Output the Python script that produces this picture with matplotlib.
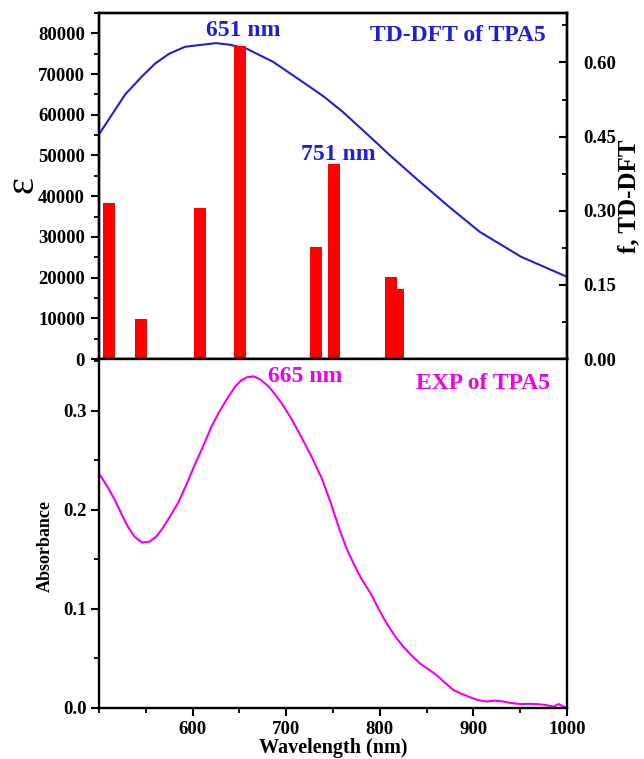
import matplotlib
matplotlib.use('Agg')
import matplotlib.pyplot as plt
from matplotlib.ticker import MultipleLocator

# TD-DFT broadened spectrum (epsilon)
eps_wl = [500, 528, 545, 560, 575, 592, 610, 625, 640, 658, 686, 718, 740, 760, 790, 811, 843, 875, 907, 951, 1000]
eps_val = [55200, 65000, 69200, 72600, 75000, 76700, 77200, 77600, 77200, 76200, 73000, 68000, 64500, 60800,
           54500, 50000, 43500, 37200, 31200, 25100, 20200]

# oscillator strengths
bar_wl = [510.5, 545, 608, 651, 732, 751, 812, 819]
bar_f = [0.316, 0.081, 0.305, 0.634, 0.227, 0.394, 0.165, 0.141]

# experimental absorbance
exp_wl = [500, 510, 517, 524, 531, 538, 546, 554, 561, 567, 575, 585, 594, 603, 612, 620, 629, 638,
          645, 652, 658, 665, 672, 681, 688, 695, 705, 716, 727, 738, 748, 757, 765, 772, 780, 790,
          800, 807, 816, 825, 834, 843, 852, 861, 870, 879, 888, 896, 905, 914, 923, 932, 941, 950,
          959, 968, 977, 986, 991, 995, 1000]
exp_abs = [0.237, 0.222, 0.210, 0.196, 0.183, 0.173, 0.167, 0.168, 0.173, 0.180, 0.192, 0.208, 0.227,
           0.247, 0.266, 0.284, 0.300, 0.314, 0.324, 0.331, 0.334, 0.335, 0.332, 0.325, 0.317, 0.308,
           0.293, 0.274, 0.254, 0.232, 0.206, 0.180, 0.160, 0.146, 0.131, 0.116, 0.098, 0.086, 0.073,
           0.062, 0.053, 0.045, 0.039, 0.033, 0.025, 0.018, 0.014, 0.011, 0.008, 0.0065, 0.0075, 0.0065,
           0.005, 0.004, 0.0042, 0.004, 0.003, 0.0015, 0.004, 0.002, 0.0]

plt.rcParams['font.family'] = ['Liberation Serif', 'DejaVu Serif']
plt.rcParams['font.weight'] = 'bold'
plt.rcParams['axes.labelweight'] = 'bold'
plt.rcParams['axes.linewidth'] = 1.7

BLUE = '#1f1fd8'
MAG = '#ee00ee'
TICK_FS = 13.5
NOTE_FS = 17

W, H = 644, 759
fig = plt.figure(figsize=(W / 100, H / 100), dpi=100)

def box(l, t, r, b):
    return [l / W, 1 - b / H, (r - l) / W, (b - t) / H]

ax1 = fig.add_axes(box(99, 13, 567, 359))
ax2 = ax1.twinx()
ax3 = fig.add_axes(box(99, 359, 567, 708))

# top panel
ax1.plot(eps_wl, eps_val, color=BLUE, lw=1.5, zorder=3)
ax1.set_xlim(500, 1000)
ax1.set_ylim(0, 85000)
ax1.yaxis.set_major_locator(MultipleLocator(10000))
ax1.yaxis.set_minor_locator(MultipleLocator(5000))
ax1.tick_params(axis='y', which='major', direction='out', length=6, width=1.5, labelsize=TICK_FS, pad=4)
ax1.tick_params(axis='y', which='minor', direction='out', length=3.5, width=1.3)
ax1.tick_params(axis='x', which='both', bottom=False, labelbottom=False)

ax2.bar(bar_wl, bar_f, width=13, color='#ff0000', zorder=2)
ax2.set_ylim(0, 0.7)
ax2.yaxis.set_major_locator(MultipleLocator(0.15))
ax2.yaxis.set_minor_locator(MultipleLocator(0.075))
ax2.yaxis.set_major_formatter(plt.FormatStrFormatter('%.2f'))
ax2.tick_params(axis='y', which='major', direction='in', length=6, width=1.5, labelsize=TICK_FS, pad=12)
ax2.tick_params(axis='y', which='minor', direction='in', length=3.5, width=1.3)

ax1.text(654, 80700, '651 nm', color=BLUE, fontsize=NOTE_FS, ha='center', va='center')
ax1.text(756, 50300, '751 nm', color=BLUE, fontsize=NOTE_FS, ha='center', va='center')
ax1.text(883, 79500, 'TD-DFT of TPA5', color=BLUE, fontsize=NOTE_FS, ha='center', va='center')

fig.text(23 / W, 1 - 185 / H, 'ε', fontsize=29, fontweight='normal', rotation=90, ha='center', va='center')
fig.text(629 / W, 1 - 196 / H, 'f, TD-DFT', fontsize=18, rotation=90, ha='center', va='center')

# bottom panel
ax3.plot(exp_wl, exp_abs, color=MAG, lw=1.5)
ax3.set_xlim(500, 1000)
ax3.set_ylim(0, 0.3525)
ax3.set_xticks([600, 700, 800, 900, 1000])
ax3.xaxis.set_minor_locator(MultipleLocator(50))
ax3.yaxis.set_major_locator(MultipleLocator(0.1))
ax3.yaxis.set_minor_locator(MultipleLocator(0.05))
ax3.tick_params(which='major', direction='out', length=6, width=1.5, labelsize=TICK_FS, pad=3)
ax3.tick_params(which='minor', direction='out', length=3.5, width=1.3)
ax3.text(720, 0.335, '665 nm', color=MAG, fontsize=NOTE_FS, ha='center', va='center')
ax3.text(910, 0.328, 'EXP of TPA5', color=MAG, fontsize=NOTE_FS, ha='center', va='center')

ax3.set_xlabel('Wavelength (nm)', fontsize=14.5, labelpad=0)
fig.text(45 / W, 1 - 546 / H, 'Absorbance', fontsize=13, rotation=90, ha='center', va='center')

fig.savefig('out.png', dpi=100)
